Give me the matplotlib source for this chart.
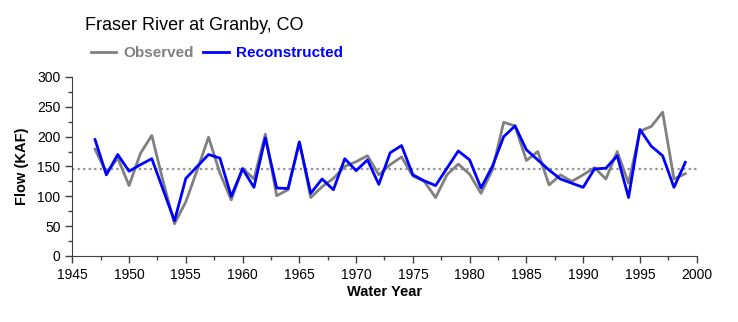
import matplotlib
matplotlib.use('Agg')
import matplotlib.pyplot as plt
from matplotlib.ticker import MultipleLocator

plt.rcParams['font.family'] = ['Liberation Sans', 'DejaVu Sans']

# Water years and flows (KAF)
years = list(range(1947, 2000))
observed = [179, 139, 164, 118, 172, 202, 125, 54, 91, 144,
            199, 139, 94, 147, 129, 204, 101, 111, 191, 98,
            116, 130, 150, 158, 168, 136, 153, 166, 134, 125,
            98, 136, 154, 137, 105, 144, 224, 218, 160, 175,
            119, 136, 125, 136, 148, 129, 175, 122, 209, 217,
            241, 129, 138]
reconstructed = [195, 136, 170, 142, 153, 163, 111, 59, 130, 150,
                 170, 164, 100, 146, 115, 198, 114, 113, 191, 105,
                 129, 111, 163, 143, 161, 120, 173, 185, 136, 126,
                 118, 147, 176, 161, 114, 150, 200, 218, 178, 161,
                 144, 129, 122, 115, 146, 147, 168, 98, 212, 184,
                 168, 115, 157]
mean_flow = 146

fig = plt.figure(figsize=(7.38, 3.22), dpi=100)
ax = fig.add_axes([0.098, 0.205, 0.846, 0.556])

ax.axhline(mean_flow, color='#909090', linestyle=(0, (1, 1.5)), linewidth=1.6, zorder=1)
ax.plot(years, observed, color='#808080', linewidth=2, label='Observed', zorder=2)
ax.plot(years, reconstructed, color='#0000ff', linewidth=2, label='Reconstructed', zorder=3)

ax.set_xlim(1945, 2000)
ax.set_ylim(0, 300)
ax.xaxis.set_major_locator(MultipleLocator(5))
ax.xaxis.set_minor_locator(MultipleLocator(2.5))
ax.yaxis.set_major_locator(MultipleLocator(50))
ax.yaxis.set_minor_locator(MultipleLocator(25))
ax.tick_params(which='major', direction='out', length=5, width=1, labelsize=10, color='#404040')
ax.tick_params(which='minor', direction='out', length=3, width=1, color='#404040')

for side in ['top', 'right']:
    ax.spines[side].set_visible(False)
for side in ['left', 'bottom']:
    ax.spines[side].set_color('#404040')

ax.set_xlabel('Water Year', fontsize=10.5, fontweight='bold', labelpad=2)
ax.set_ylabel('Flow (KAF)', fontsize=10.5, fontweight='bold', labelpad=6)

fig.text(0.115, 0.92, 'Fraser River at Granby, CO', fontsize=13, ha='left', va='center')

leg = fig.legend(loc='center left', bbox_to_anchor=(0.104, 0.835), ncol=2, frameon=False,
                 handlelength=1.7, handletextpad=0.45, columnspacing=0.6,
                 prop={'weight': 'bold', 'size': 11})
for txt, col in zip(leg.get_texts(), ['#808080', '#0000ff']):
    txt.set_color(col)

fig.savefig('out.png', dpi=100)
